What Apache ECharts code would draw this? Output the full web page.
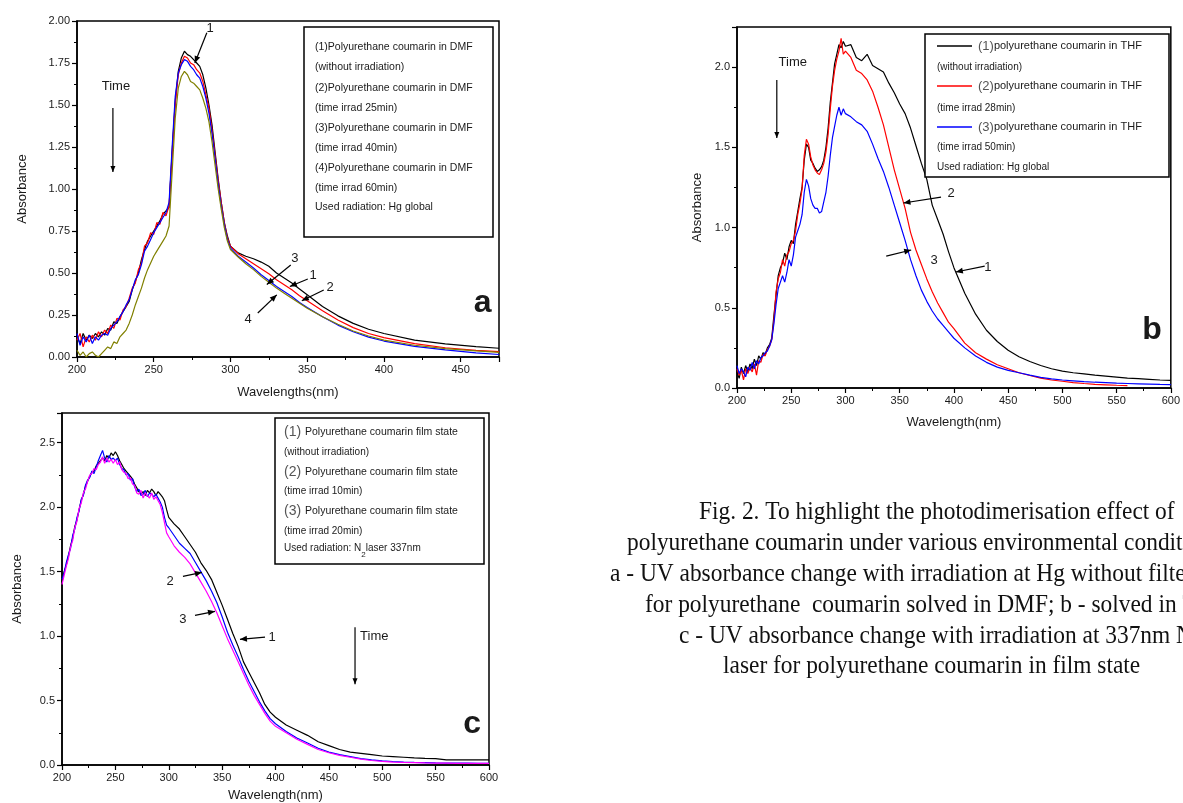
<!DOCTYPE html>
<html>
<head>
<meta charset="utf-8">
<script src="https://cdn.jsdelivr.net/npm/echarts@6/dist/echarts.min.js"></script>
<style>
html, body { margin: 0; padding: 0; background: #ffffff; }
#chart { width: 1183px; height: 803px; }
</style>
</head>
<body>
<div id="chart"></div>
<script>
// ---------- Panel a: polyurethane coumarin in DMF (Hg lamp, no filter) ----------
const waveA = [
  200,202,204,206,208,210,212,214,216,218,
  220,222,224,226,228,230,232,234,236,238,
  240,242,244,246,248,250,252,254,256,258,
  260,262,264,266,268,270,272,274,276,278,
  280,282,284,286,288,290,292,294,296,298,
  300,
  305,310,315,320,325,330,335,340,345,350,
  360,370,380,390,400,
  420,440,460,475
];
const dmf0min = [
  0.12,0.08,0.14,0.10,0.13,0.11,0.14,0.12,0.15,0.13,
  0.17,0.16,0.21,0.20,0.24,0.27,0.30,0.33,0.40,0.45,
  0.50,0.58,0.64,0.69,0.72,0.75,0.78,0.81,0.85,0.87,
  0.89,1.22,1.52,1.70,1.78,1.82,1.80,1.79,1.77,1.75,
  1.73,1.68,1.60,1.50,1.38,1.22,1.06,0.92,0.80,0.72,
  0.66,
  0.62,0.60,0.585,0.565,0.54,0.50,0.47,0.44,0.405,0.37,
  0.30,0.245,0.20,0.165,0.14,
  0.10,0.078,0.062,0.052
];
const dmf25min = [
  0.10,0.14,0.06,0.12,0.09,0.13,0.10,0.15,0.12,0.16,
  0.14,0.19,0.17,0.23,0.22,0.28,0.30,0.35,0.41,0.44,
  0.52,0.56,0.66,0.68,0.74,0.73,0.80,0.79,0.86,0.84,
  0.90,1.20,1.50,1.68,1.75,1.79,1.78,1.75,1.74,1.71,
  1.69,1.64,1.56,1.48,1.35,1.20,1.05,0.92,0.80,0.71,
  0.66,
  0.615,0.585,0.555,0.525,0.495,0.46,0.43,0.40,0.365,0.335,
  0.275,0.22,0.175,0.14,0.115,
  0.08,0.055,0.04,0.032
];
const dmf40min = [
  0.14,0.07,0.12,0.09,0.13,0.08,0.12,0.10,0.13,0.14,
  0.13,0.17,0.19,0.21,0.24,0.27,0.31,0.34,0.40,0.46,
  0.49,0.55,0.63,0.66,0.70,0.74,0.77,0.80,0.83,0.86,
  0.92,1.25,1.55,1.69,1.74,1.77,1.76,1.73,1.71,1.68,
  1.66,1.61,1.54,1.45,1.33,1.18,1.03,0.90,0.79,0.70,
  0.65,
  0.60,0.565,0.53,0.49,0.455,0.42,0.39,0.36,0.325,0.295,
  0.24,0.19,0.15,0.118,0.095,
  0.063,0.042,0.025,0.015
];
const dmf60min = [
  0.04,0.01,0.03,0.00,0.02,0.03,0.01,0.00,0.02,0.04,
  0.06,0.05,0.09,0.08,0.12,0.14,0.16,0.20,0.25,0.31,
  0.36,0.41,0.47,0.52,0.56,0.60,0.63,0.66,0.69,0.72,
  0.78,1.10,1.42,1.60,1.67,1.70,1.68,1.64,1.63,1.61,
  1.59,1.54,1.48,1.40,1.28,1.14,1.00,0.88,0.77,0.69,
  0.64,
  0.595,0.555,0.52,0.48,0.445,0.41,0.38,0.35,0.32,0.29,
  0.24,0.195,0.155,0.125,0.10,
  0.07,0.05,0.036,0.028
];

// ---------- Panels b and c share one wavelength grid ----------
const waveBC = [
  200,202,204,206,208,210,212,214,216,218,
  220,222,224,226,228,230,232,234,236,238,
  240,242,244,246,248,250,252,254,256,258,
  260,262,264,266,268,270,272,274,276,278,
  280,282,284,286,288,290,292,294,296,298,
  300,
  305,310,315,320,325,330,335,340,345,350,
  355,360,365,370,375,380,385,390,395,400,
  410,420,430,440,450,460,470,480,490,500,
  510,520,530,540,550,560,570,580,590,600
];

// Panel b: solution in THF
const thf0min = [
  0.10,0.06,0.13,0.09,0.14,0.10,0.15,0.12,0.18,0.14,
  0.20,0.18,0.22,0.21,0.25,0.27,0.31,0.45,0.58,0.70,
  0.75,0.78,0.84,0.80,0.88,0.92,0.90,1.02,1.10,1.18,
  1.25,1.42,1.52,1.50,1.42,1.40,1.37,1.35,1.36,1.38,
  1.42,1.50,1.62,1.78,1.90,2.02,2.08,2.14,2.12,2.16,
  2.13,
  2.14,2.06,2.04,2.08,2.01,1.99,1.97,1.90,1.84,1.77,
  1.71,1.62,1.51,1.40,1.30,1.14,1.05,0.96,0.85,0.75,
  0.59,0.46,0.36,0.29,0.235,0.195,0.165,0.14,0.12,0.105,
  0.095,0.088,0.08,0.074,0.068,0.062,0.058,0.054,0.05,0.047
];
const thf28min = [
  0.12,0.08,0.11,0.05,0.12,0.09,0.13,0.10,0.15,0.08,
  0.17,0.16,0.21,0.20,0.24,0.26,0.30,0.42,0.60,0.68,
  0.72,0.80,0.76,0.83,0.85,0.90,0.92,0.98,1.08,1.15,
  1.24,1.45,1.55,1.52,1.44,1.39,1.36,1.34,1.33,1.36,
  1.40,1.47,1.58,1.74,1.88,1.98,2.05,2.10,2.18,2.08,
  2.10,
  2.06,1.98,1.96,1.92,1.85,1.75,1.64,1.50,1.36,1.24,
  1.12,0.97,0.86,0.77,0.68,0.60,0.53,0.47,0.41,0.37,
  0.28,0.22,0.18,0.145,0.12,0.095,0.078,0.062,0.05,0.042,
  0.034,0.028,0.023,0.02,0.017,0.015
];
const thf50min = [
  0.14,0.09,0.12,0.10,0.07,0.13,0.11,0.16,0.12,0.17,
  0.15,0.19,0.20,0.22,0.23,0.26,0.30,0.40,0.52,0.62,
  0.66,0.70,0.66,0.72,0.80,0.76,0.83,0.94,0.98,1.02,
  1.08,1.22,1.30,1.26,1.18,1.14,1.12,1.12,1.09,1.10,
  1.16,1.22,1.32,1.45,1.56,1.63,1.70,1.75,1.70,1.74,
  1.71,
  1.69,1.66,1.64,1.60,1.52,1.43,1.35,1.25,1.14,1.03,
  0.92,0.80,0.70,0.61,0.54,0.48,0.43,0.39,0.35,0.31,
  0.25,0.20,0.16,0.13,0.11,0.095,0.08,0.066,0.057,0.05,
  0.045,0.04,0.036,0.033,0.03,0.028,0.026,0.024,0.022,0.021
];

// Panel c: film state, N2 laser 337 nm
const film0min = [
  1.42,1.50,1.55,1.62,1.70,1.76,1.85,1.90,1.98,2.05,
  2.10,2.16,2.20,2.24,2.27,2.28,2.32,2.34,2.36,2.38,
  2.36,2.40,2.38,2.42,2.40,2.43,2.40,2.36,2.33,2.30,
  2.28,2.26,2.24,2.22,2.18,2.15,2.12,2.10,2.12,2.09,
  2.13,2.11,2.14,2.12,2.09,2.12,2.10,2.08,2.05,1.98,
  1.92,
  1.87,1.83,1.77,1.71,1.65,1.57,1.51,1.44,1.34,1.24,
  1.13,1.02,0.92,0.80,0.72,0.64,0.56,0.47,0.41,0.37,
  0.31,0.27,0.23,0.18,0.15,0.12,0.10,0.09,0.08,0.07,
  0.065,0.06,0.055,0.052,0.05,0.04,0.04,0.04,0.04,0.04
];
const film10min = [
  1.44,1.49,1.57,1.63,1.68,1.78,1.83,1.92,1.97,2.06,
  2.09,2.17,2.21,2.23,2.28,2.26,2.31,2.36,2.40,2.44,
  2.38,2.35,2.40,2.37,2.38,2.36,2.38,2.33,2.30,2.29,
  2.25,2.26,2.21,2.22,2.16,2.12,2.14,2.09,2.10,2.13,
  2.08,2.11,2.10,2.08,2.10,2.07,2.04,2.00,1.92,1.86,
  1.84,
  1.78,1.72,1.68,1.64,1.57,1.50,1.43,1.35,1.26,1.15,
  1.03,0.93,0.84,0.74,0.65,0.57,0.49,0.42,0.36,0.32,
  0.26,0.21,0.17,0.13,0.10,0.08,0.065,0.05,0.04,0.032,
  0.027,0.023,0.02,0.018,0.016,0.015,0.014,0.014,0.013,0.013
];
const film20min = [
  1.40,1.47,1.54,1.60,1.69,1.74,1.84,1.89,1.99,2.03,
  2.11,2.14,2.20,2.25,2.26,2.30,2.29,2.33,2.35,2.39,
  2.34,2.38,2.35,2.37,2.34,2.37,2.33,2.35,2.29,2.27,
  2.26,2.22,2.23,2.18,2.17,2.11,2.10,2.13,2.07,2.11,
  2.09,2.07,2.11,2.06,2.08,2.05,2.02,1.96,1.88,1.80,
  1.77,
  1.70,1.65,1.61,1.56,1.49,1.42,1.35,1.27,1.18,1.08,
  0.98,0.89,0.80,0.71,0.62,0.54,0.47,0.40,0.34,0.30,
  0.25,0.20,0.16,0.12,0.095,0.075,0.06,0.045,0.035,0.028,
  0.023,0.02,0.018,0.016,0.015,0.014,0.013,0.013,0.012,0.012
];

// ---------- Text ----------
const legendA = [
  '(1)Polyurethane coumarin in DMF', '(without irradiation)',
  '(2)Polyurethane coumarin in DMF', '(time irrad 25min)',
  '(3)Polyurethane coumarin in DMF', '(time irrad 40min)',
  '(4)Polyurethane coumarin in DMF', '(time irrad 60min)',
  'Used radiation: Hg global'
];
const legendBNames = ['polyurethane coumarin in THF', 'polyurethane coumarin in THF', 'polyurethane coumarin in THF'];
const legendBNotes = ['(without irradiation)', '(time irrad 28min)', '(time irrad 50min)'];
const legendCNames = ['Polyurethane coumarin film state', 'Polyurethane coumarin film state', 'Polyurethane coumarin film state'];
const legendCNotes = ['(without irradiation)', '(time irrad 10min)', '(time irrad 20min)'];
const captionLines = [
  'Fig. 2. To highlight the photodimerisation effect of',
  'polyurethane coumarin under various environmental conditions:',
  'a - UV absorbance change with irradiation at Hg without filter',
  'for polyurethane  coumarin solved in DMF; b - solved in THF;',
  'c - UV absorbance change with irradiation at 337nm N2',
  'laser for polyurethane coumarin in film state'
];

const INK = '#1a1a1a';
const SANS = '"Liberation Sans", Arial, sans-serif';

function pairs(xs, ys) {
  const out = [];
  const n = Math.min(xs.length, ys.length);
  for (let i = 0; i < n; i++) out.push([xs[i], ys[i]]);
  return out;
}

function xAxisCfg(gridIndex, max, name, gap) {
  return {
    type: 'value', gridIndex: gridIndex, min: 200, max: max, interval: 50,
    name: name, nameLocation: 'middle', nameGap: gap,
    nameTextStyle: { fontFamily: SANS, fontSize: 13, color: INK },
    axisLine: { onZero: false, lineStyle: { color: '#000', width: 1.5 } },
    axisTick: { show: true, inside: false, length: 5, lineStyle: { color: '#000', width: 1.2 } },
    minorTick: { show: true, splitNumber: 2, length: 3, lineStyle: { color: '#000', width: 1 } },
    axisLabel: { fontFamily: SANS, fontSize: 11, color: INK, margin: 7, showMaxLabel: max === 600 },
    splitLine: { show: false }
  };
}
function yAxisCfg(gridIndex, max, interval, digits, gap, showMax) {
  return {
    type: 'value', gridIndex: gridIndex, min: 0, max: max, interval: interval,
    name: 'Absorbance', nameLocation: 'middle', nameGap: gap, nameRotate: 90,
    nameTextStyle: { fontFamily: SANS, fontSize: 13, color: INK },
    axisLine: { onZero: false, lineStyle: { color: '#000', width: 1.5 } },
    axisTick: { show: true, inside: false, length: 5, lineStyle: { color: '#000', width: 1.2 } },
    minorTick: { show: true, splitNumber: 2, length: 3, lineStyle: { color: '#000', width: 1 } },
    axisLabel: { fontFamily: SANS, fontSize: 11, color: INK, margin: 7, showMaxLabel: showMax,
      formatter: v => v.toFixed(digits) },
    splitLine: { show: false }
  };
}
function line(name, xi, data, color) {
  return {
    name: name, type: 'line', xAxisIndex: xi, yAxisIndex: xi, data: data,
    showSymbol: false, symbol: 'none', clip: true, z: 3,
    lineStyle: { color: color, width: 1.2 }, itemStyle: { color: color }
  };
}

const chart = echarts.init(document.getElementById('chart'), null, { renderer: 'canvas' });
const frame = { show: true, borderColor: '#000', borderWidth: 1.5, backgroundColor: 'transparent' };

chart.setOption({
  animation: false,
  backgroundColor: '#ffffff',
  grid: [
    Object.assign({ left: 77, top: 21, width: 422, height: 336 }, frame),
    Object.assign({ left: 737, top: 27, width: 436, height: 361 }, frame),
    Object.assign({ left: 62, top: 413, width: 427, height: 353 }, frame)
  ],
  xAxis: [
    xAxisCfg(0, 475, 'Wavelengths(nm)', 29),
    xAxisCfg(1, 600, 'Wavelength(nm)', 28),
    xAxisCfg(2, 600, 'Wavelength(nm)', 24)
  ],
  yAxis: [
    yAxisCfg(0, 2, 0.25, 2, 48, true),
    yAxisCfg(1, 2.25, 0.5, 1, 33, false),
    yAxisCfg(2, 2.73, 0.5, 1, 38, false)
  ],
  series: [
    line('DMF 0 min', 0, pairs(waveA, dmf0min), '#000000'),
    line('DMF 25 min', 0, pairs(waveA, dmf25min), '#ff0000'),
    line('DMF 40 min', 0, pairs(waveA, dmf40min), '#0000ff'),
    line('DMF 60 min', 0, pairs(waveA, dmf60min), '#808000'),
    line('THF 0 min', 1, pairs(waveBC, thf0min), '#000000'),
    line('THF 28 min', 1, pairs(waveBC, thf28min), '#ff0000'),
    line('THF 50 min', 1, pairs(waveBC, thf50min), '#0000ff'),
    line('Film 0 min', 2, pairs(waveBC, film0min), '#000000'),
    line('Film 10 min', 2, pairs(waveBC, film10min), '#0000ff'),
    line('Film 20 min', 2, pairs(waveBC, film20min), '#ff00ff')
  ]
});

// ---------- Annotations, placed in data coordinates ----------
const notesA = {
  grid: 0,
  arrows: [
    { label: '1', at: [286.8, 1.955], from: [284.6, 1.930], to: [276.8, 1.75] },
    { label: '3', at: [341.9, 0.589], from: [339.3, 0.548], to: [323.7, 0.432] },
    { label: '1', at: [353.8, 0.488], from: [350.4, 0.464], to: [338.7, 0.420] },
    { label: '2', at: [364.9, 0.417], from: [360.8, 0.399], to: [346.5, 0.335] },
    { label: '4', at: [311.5, 0.226], from: [317.8, 0.262], to: [330.2, 0.370] }
  ],
  time: { at: [225.4, 1.613], from: [223.4, 1.482], to: [223.4, 1.101], align: 'center' },
  letter: { text: 'a', at: [464.3, 0.321] }
};
const notesB = {
  grid: 1,
  arrows: [
    { label: '2', at: [397.4, 1.215], from: [388.1, 1.190], to: [353.5, 1.153] },
    { label: '3', at: [381.7, 0.797], from: [337.6, 0.822], to: [360.6, 0.860] },
    { label: '1', at: [431.4, 0.754], from: [428.4, 0.760], to: [401.8, 0.723] }
  ],
  time: { at: [251.4, 2.031], from: [236.7, 1.919], to: [236.7, 1.558], align: 'center' },
  letter: { text: 'b', at: [582.6, 0.361] }
};
const notesC = {
  grid: 2,
  arrows: [
    { label: '2', at: [301.2, 1.424], from: [313.3, 1.463], to: [331.1, 1.494] },
    { label: '3', at: [313.3, 1.130], from: [324.6, 1.161], to: [343.3, 1.192] },
    { label: '1', at: [396.9, 0.991], from: [390.2, 0.991], to: [366.7, 0.975] }
  ],
  time: { at: [479.2, 0.999], from: [474.5, 1.068], to: [474.5, 0.627], align: 'left' },
  letter: { text: 'c', at: [584.1, 0.317] }
};

function px(g, pt) { return chart.convertToPixel({ gridIndex: g }, pt); }

function arrowHead(tip, from, size) {
  const dx = tip[0] - from[0], dy = tip[1] - from[1];
  const len = Math.hypot(dx, dy) || 1;
  const ux = dx / len, uy = dy / len;
  const bx = tip[0] - ux * size, by = tip[1] - uy * size;
  const nx = -uy * size * 0.42, ny = ux * size * 0.42;
  return {
    type: 'polygon', silent: true, z: 20,
    shape: { points: [tip, [bx + nx, by + ny], [bx - nx, by - ny]] },
    style: { fill: '#000' }
  };
}
function segment(a, b) {
  return {
    type: 'line', silent: true, z: 20,
    shape: { x1: a[0], y1: a[1], x2: b[0], y2: b[1] },
    style: { stroke: '#000', lineWidth: 1.2 }
  };
}
function label(text, p, size, align, weight) {
  return {
    type: 'text', silent: true, z: 21, x: p[0], y: p[1],
    style: { text: text, fontFamily: SANS, fontSize: size, fontWeight: weight || 'normal',
      fill: INK, textAlign: align || 'center', textVerticalAlign: 'middle' }
  };
}

function noteGraphics(notes) {
  const out = [];
  const g = notes.grid;
  notes.arrows.forEach(a => {
    const f = px(g, a.from), t = px(g, a.to);
    out.push(segment(f, t));
    out.push(arrowHead(t, f, 7));
    out.push(label(a.label, px(g, a.at), 13));
  });
  const tf = px(g, notes.time.from), tt = px(g, notes.time.to);
  out.push(segment(tf, tt));
  out.push(arrowHead(tt, tf, 6));
  out.push(label('Time', px(g, notes.time.at), 13, notes.time.align));
  out.push(label(notes.letter.text, px(g, notes.letter.at), 32, 'center', 'bold'));
  return out;
}

function box(x1, y1, x2, y2) {
  return {
    type: 'rect', silent: true, z: 10,
    shape: { x: x1, y: y1, width: x2 - x1, height: y2 - y1 },
    style: { fill: '#ffffff', stroke: '#000', lineWidth: 1.5 }
  };
}
function smallText(text, x, y, size) {
  return {
    type: 'text', silent: true, z: 11, x: x, y: y,
    style: { text: text, fontFamily: SANS, fontSize: size, fill: INK,
      textAlign: 'left', textVerticalAlign: 'middle' }
  };
}
function richText(num, rest, x, y, bigSize, smallSize) {
  return {
    type: 'text', silent: true, z: 11, x: x, y: y,
    style: {
      text: '{n|' + num + '}{s|' + rest + '}',
      textAlign: 'left', textVerticalAlign: 'middle',
      rich: {
        n: { fontFamily: SANS, fontSize: bigSize, fill: '#555' },
        s: { fontFamily: SANS, fontSize: smallSize, fill: INK }
      }
    }
  };
}

const graphics = [];

// Legend, panel a
graphics.push(box(304, 27, 493, 237));
const rowsA = [47, 67, 88, 108, 128, 148, 168, 188, 207];
legendA.forEach((t, i) => graphics.push(smallText(t, 315, rowsA[i], 10.5)));

// Legend, panel b
graphics.push(box(925, 34, 1169, 177));
const colorsB = ['#000000', '#ff0000', '#0000ff'];
const rowsBMain = [46, 86, 127];
const rowsBNote = [67, 108, 147];
for (let i = 0; i < 3; i++) {
  graphics.push({
    type: 'line', silent: true, z: 11,
    shape: { x1: 937, y1: rowsBMain[i], x2: 972, y2: rowsBMain[i] },
    style: { stroke: colorsB[i], lineWidth: 1.5 }
  });
  graphics.push(richText('(' + (i + 1) + ')', legendBNames[i], 978, rowsBMain[i], 13, 11));
  graphics.push(smallText(legendBNotes[i], 937, rowsBNote[i], 10));
}
graphics.push(smallText('Used radiation: Hg global', 937, 167, 10));

// Legend, panel c
graphics.push(box(275, 418, 484, 564));
const rowsCMain = [432, 472, 511];
const rowsCNote = [452, 491, 531];
for (let i = 0; i < 3; i++) {
  graphics.push(richText('(' + (i + 1) + ') ', legendCNames[i], 284, rowsCMain[i], 14, 10.5));
  graphics.push(smallText(legendCNotes[i], 284, rowsCNote[i], 10));
}
graphics.push({
  type: 'text', silent: true, z: 11, x: 284, y: 551,
  style: {
    text: '{t|Used radiation: N}{sub|2}{t|laser 337nm}',
    textAlign: 'left', textVerticalAlign: 'middle',
    rich: {
      t: { fontFamily: SANS, fontSize: 10, fill: INK, verticalAlign: 'top', lineHeight: 15 },
      sub: { fontFamily: SANS, fontSize: 8, fill: INK, verticalAlign: 'bottom', lineHeight: 15 }
    }
  }
});

// Figure caption (condensed serif)
const captionX = [699, 627, 610, 645, 679, 723];
const captionY = [512, 543, 574, 605, 636, 666];
captionLines.forEach((t, i) => {
  graphics.push({
    type: 'text', silent: true, z: 5, x: captionX[i], y: captionY[i], scaleX: 0.9,
    style: { text: t, fontFamily: '"Liberation Serif", "DejaVu Serif", serif', fontSize: 26,
      fill: '#111', textAlign: 'left', textVerticalAlign: 'middle' }
  });
});

graphics.push(...noteGraphics(notesA), ...noteGraphics(notesB), ...noteGraphics(notesC));

chart.setOption({ graphic: graphics });
</script>
</body>
</html>
